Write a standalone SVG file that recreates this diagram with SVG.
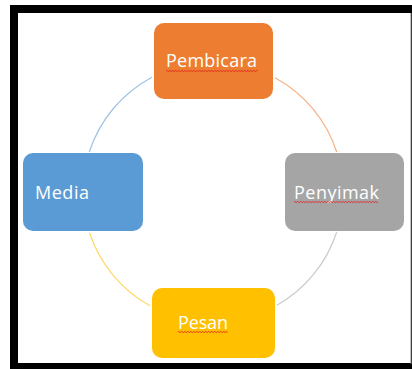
<svg xmlns="http://www.w3.org/2000/svg" width="412" height="369" viewBox="0 0 412 369">
<style>
.lbl{font-family:"Open Sans","Liberation Sans",sans-serif;font-size:18px;fill:#ffffff}
.arc{fill:none;stroke-width:1.2}
.sq{fill:none;stroke:#e0201c;stroke-width:0.9}
</style>
<rect x="0" y="0" width="412" height="369" fill="#ffffff"/>
<g id="frame">
<rect x="10" y="5" width="402" height="364" fill="#000000"/>
<rect x="18" y="13" width="393" height="350" fill="#ffffff"/>
<line x1="411" y1="13" x2="411" y2="364" stroke="#7f7f7f" stroke-width="1"/>
</g>
<g id="connectors">
<path class="arc" stroke="#9dc3e6" d="M 152 77.2 A 130 130 0 0 0 89.3 152"/>
<path class="arc" stroke="#f4b183" d="M 275 77.7 A 130 130 0 0 1 336.7 152"/>
<path class="arc" stroke="#c9c9c9" d="M 336.7 232 A 130 130 0 0 1 277 305.2"/>
<path class="arc" stroke="#ffd966" d="M 150 305.7 A 130 130 0 0 1 89.6 233"/>
</g>
<g id="pembicara">
<rect x="154" y="23" width="119" height="76" rx="10" fill="#ed7d31"/>
<text class="lbl" x="166" y="67" textLength="91" lengthAdjust="spacing">Pembicara</text>
<path class="sq" d="M166 71 q0.75 -1 1.5 0 t1.5 0 t1.5 0 t1.5 0 t1.5 0 t1.5 0 t1.5 0 t1.5 0 t1.5 0 t1.5 0 t1.5 0 t1.5 0 t1.5 0 t1.5 0 t1.5 0 t1.5 0 t1.5 0 t1.5 0 t1.5 0 t1.5 0 t1.5 0 t1.5 0 t1.5 0 t1.5 0 t1.5 0 t1.5 0 t1.5 0 t1.5 0 t1.5 0 t1.5 0 t1.5 0 t1.5 0 t1.5 0 t1.5 0 t1.5 0 t1.5 0 t1.5 0 t1.5 0 t1.5 0 t1.5 0 t1.5 0 t1.5 0 t1.5 0 t1.5 0 t1.5 0 t1.5 0 t1.5 0 t1.5 0 t1.5 0 t1.5 0 t1.5 0 t1.5 0 t1.5 0 t1.5 0 t1.5 0 t1.5 0 t1.5 0 t1.5 0 t1.5 0 t1.5 0 t1.5 0"/>
</g>
<g id="media">
<rect x="23" y="153" width="120" height="78" rx="10" fill="#5b9bd5"/>
<text class="lbl" x="35" y="199" textLength="54" lengthAdjust="spacing">Media</text>
</g>
<g id="penyimak">
<rect x="285" y="153" width="119" height="78" rx="10" fill="#a5a5a5"/>
<text class="lbl" x="294" y="199" textLength="85" lengthAdjust="spacing">Penyimak</text>
<path class="sq" d="M294 202 q0.75 -1 1.5 0 t1.5 0 t1.5 0 t1.5 0 t1.5 0 t1.5 0 t1.5 0 t1.5 0 t1.5 0 t1.5 0 t1.5 0 t1.5 0 t1.5 0 t1.5 0 t1.5 0 t1.5 0 t1.5 0 t1.5 0 t1.5 0 t1.5 0 t1.5 0 t1.5 0 t1.5 0 t1.5 0 t1.5 0 t1.5 0 t1.5 0 t1.5 0 t1.5 0 t1.5 0 t1.5 0 t1.5 0 t1.5 0 t1.5 0 t1.5 0 t1.5 0 t1.5 0 t1.5 0 t1.5 0 t1.5 0 t1.5 0 t1.5 0 t1.5 0 t1.5 0 t1.5 0 t1.5 0 t1.5 0 t1.5 0 t1.5 0 t1.5 0 t1.5 0 t1.5 0 t1.5 0 t1.5 0 t1.5 0 t1.5 0"/>
</g>
<g id="pesan">
<rect x="152" y="288" width="123" height="70" rx="10" fill="#ffc000"/>
<text class="lbl" x="178" y="329" textLength="50" lengthAdjust="spacing">Pesan</text>
<path class="sq" d="M178 332 q0.75 -1 1.5 0 t1.5 0 t1.5 0 t1.5 0 t1.5 0 t1.5 0 t1.5 0 t1.5 0 t1.5 0 t1.5 0 t1.5 0 t1.5 0 t1.5 0 t1.5 0 t1.5 0 t1.5 0 t1.5 0 t1.5 0 t1.5 0 t1.5 0 t1.5 0 t1.5 0 t1.5 0 t1.5 0 t1.5 0 t1.5 0 t1.5 0 t1.5 0 t1.5 0 t1.5 0 t1.5 0 t1.5 0 t1.5 0"/>
</g>
</svg>
